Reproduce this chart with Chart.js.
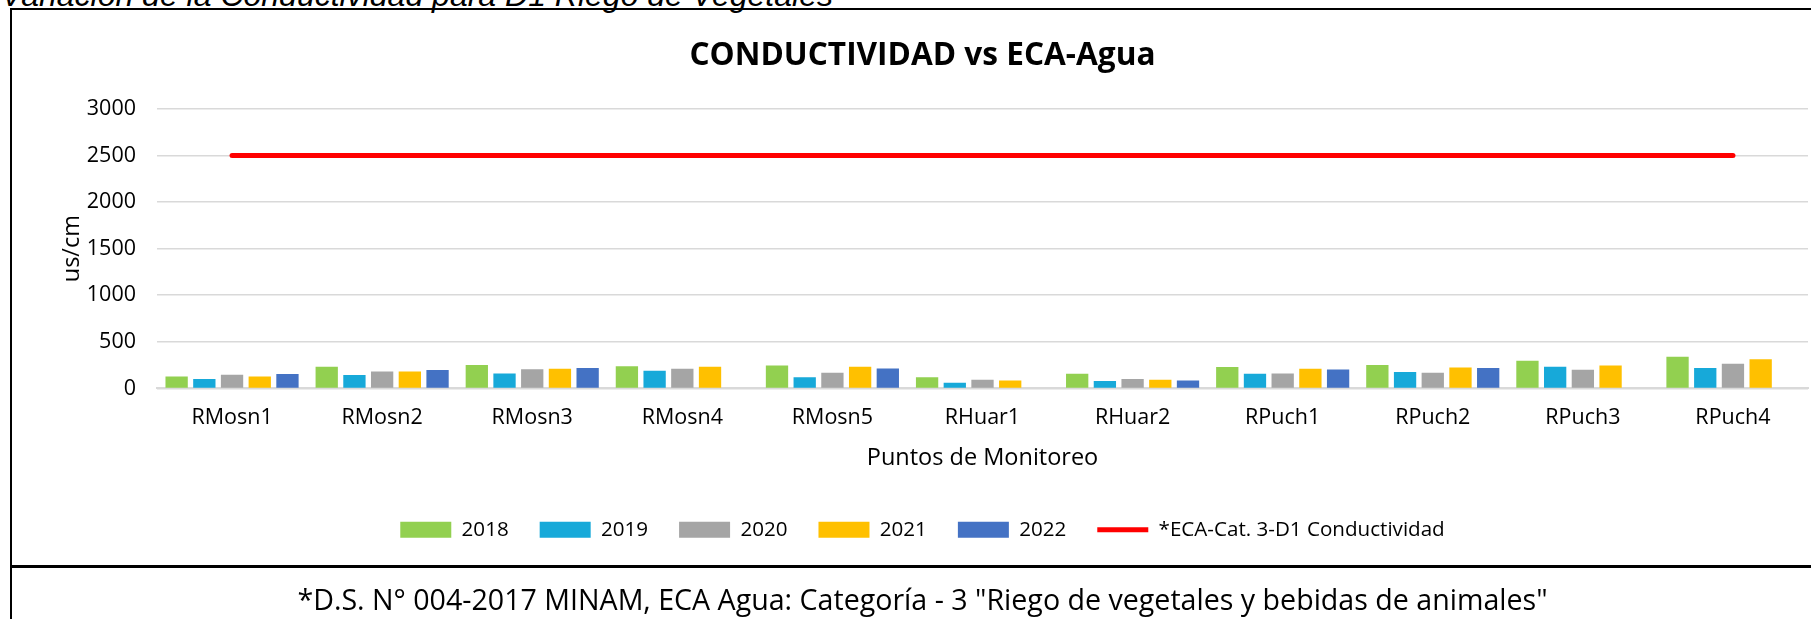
<!DOCTYPE html>
<html>
<head>
<meta charset="utf-8">
<script src="https://cdn.jsdelivr.net/npm/chart.js@4"></script>
<style>
    html, body { margin: 0; padding: 0; width: 1811px; height: 619px; overflow: hidden; background: #fff; }
    #caption { position: absolute; left: 1px; top: -21px; font: italic 32px "Liberation Sans", Arial, sans-serif; line-height: 32px; white-space: nowrap; color: #000; }
    #box { position: absolute; left: 10px; top: 8px; width: 1821px; height: 640px; border-left: 2px solid #000; border-top: 2px solid #000; border-right: 2px solid #000; }
    #chart { position: absolute; left: 0; top: 0; }
    #footer { position: absolute; left: 0; top: 555px; width: 1821px; border-top: 3px solid #000; text-align: center; font: 28.6px "Open Sans", sans-serif; padding-top: 11px; color: #000; white-space: nowrap; }
</style>
</head>
<body>
<div id="caption">Variación de la Conductividad para D1 Riego de Vegetales</div>
<div id="box">
    <canvas id="chart" width="1821" height="556"></canvas>
    <div id="footer">*D.S. N° 004-2017 MINAM, ECA Agua: Categoría - 3 "Riego de vegetales y bebidas de animales"</div>
</div>
<script>
// puntos de monitoreo
const categories = ['RMosn1', 'RMosn2', 'RMosn3', 'RMosn4', 'RMosn5', 'RHuar1', 'RHuar2', 'RPuch1', 'RPuch2', 'RPuch3', 'RPuch4'];

// conductividad (us/cm) por año
const v2018 = [129, 232, 250, 239, 246, 121, 157, 229, 250, 296, 339];
const v2019 = [100, 143, 160, 189, 121, 61, 79, 157, 175, 232, 218];
const v2020 = [147, 182, 205, 211, 168, 93, 100, 161, 168, 200, 264];
const v2021 = [129, 182, 212, 232, 232, 86, 93, 211, 225, 246, 312];
const v2022 = [154, 197, 220, null, 214, null, 86, 204, 218, null, null];

// ECA Cat. 3-D1
const ecaLimit = [2500, 2500, 2500, 2500, 2500, 2500, 2500, 2500, 2500, 2500, 2500];

const yMin = 0;
const yMax = 3000;
const yStep = 500;

const colors = {
    y2018: '#92D050',
    y2019: '#17A9D9',
    y2020: '#A5A5A5',
    y2021: '#FFC000',
    y2022: '#4472C4',
    eca: '#FF0000',
    grid: '#D9D9D9',
    text: '#000000'
};

const fontFamily = '"Open Sans", sans-serif';

function barSet(label, data, color) {
    return {
        type: 'bar',
        label: label,
        data: data,
        backgroundColor: color,
        borderWidth: 0,
        categoryPercentage: 0.923,
        barPercentage: 0.805
    };
}

const ctx = document.getElementById('chart').getContext('2d');
new Chart(ctx, {
    data: {
        labels: categories,
        datasets: [
            barSet('2018', v2018, colors.y2018),
            barSet('2019', v2019, colors.y2019),
            barSet('2020', v2020, colors.y2020),
            barSet('2021', v2021, colors.y2021),
            barSet('2022', v2022, colors.y2022),
            {
                type: 'line',
                label: '*ECA-Cat. 3-D1 Conductividad',
                data: ecaLimit,
                borderColor: colors.eca,
                backgroundColor: colors.eca,
                borderWidth: 5,
                borderCapStyle: 'round',
                pointRadius: 0,
                fill: false
            }
        ]
    },
    options: {
        responsive: false,
        animation: false,
        layout: { padding: { top: 0, right: 25, bottom: 16, left: 25 } },
        plugins: {
            title: {
                display: true,
                text: 'CONDUCTIVIDAD vs ECA-Agua',
                color: colors.text,
                font: { family: fontFamily, size: 31.6, weight: 'bold' },
                padding: { top: 27, bottom: 34 }
            },
            legend: {
                position: 'bottom',
                labels: {
                    usePointStyle: true,
                    pointStyleWidth: 51,
                    boxHeight: 16,
                    padding: 31,
                    color: colors.text,
                    font: { family: fontFamily, size: 20.6 },
                    generateLabels: function(chart) {
                        const items = Chart.defaults.plugins.legend.labels.generateLabels(chart);
                        items.forEach(item => {
                            const ds = chart.data.datasets[item.datasetIndex];
                            if (ds.type === 'line') {
                                item.pointStyle = 'line';
                                item.strokeStyle = colors.eca;
                                item.lineWidth = 5;
                            } else {
                                item.pointStyle = 'rect';
                                item.lineWidth = 0;
                                item.fillStyle = ds.backgroundColor;
                            }
                        });
                        return items;
                    }
                }
            },
            tooltip: { enabled: false }
        },
        scales: {
            x: {
                grid: { display: false, drawTicks: false },
                border: { color: colors.grid, width: 2 },
                ticks: { padding: 17, color: colors.text, font: { family: fontFamily, size: 21.5 } },
                title: {
                    display: true,
                    text: 'Puntos de Monitoreo',
                    color: colors.text,
                    font: { family: fontFamily, size: 23.5 },
                    padding: { top: 0, bottom: 16 }
                },
                afterFit: function(scale) { scale.height = 100; }
            },
            y: {
                min: yMin,
                max: yMax,
                grid: { color: colors.grid, lineWidth: 1.5, drawTicks: false },
                border: { display: false },
                ticks: {
                    stepSize: yStep,
                    padding: 21,
                    color: colors.text,
                    font: { family: fontFamily, size: 21.5 },
                    callback: value => String(value)
                },
                title: {
                    display: true,
                    text: 'us/cm',
                    color: colors.text,
                    font: { family: fontFamily, size: 23.5 },
                    padding: { top: 21, bottom: 0 }
                },
                afterFit: function(scale) { scale.width = 120; }
            }
        }
    }
});
</script>
</body>
</html>
